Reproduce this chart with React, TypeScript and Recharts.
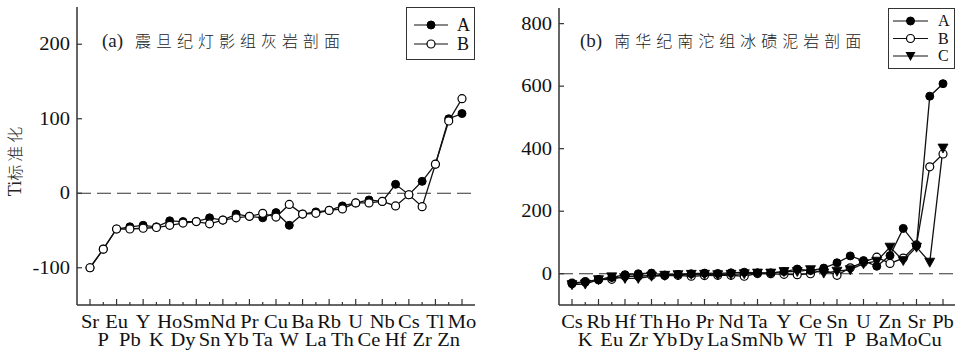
import React from 'react';
import { LineChart, Line, XAxis, YAxis, ReferenceLine, Legend } from 'recharts';

// ---------- data: panel (a) ----------
const leftElements = ['Sr','P','Eu','Pb','Y','K','Ho','Dy','Sm','Sn','Nd','Yb','Pr','Ta','Cu','W','Ba','La','Rb','Th','U','Ce','Nb','Hf','Cs','Zr','Tl','Zn','Mo'];
const leftA = [-100,-75,-48,-45,-43,-45,-37,-38,-38,-33,-36,-28,-31,-33,-26,-43,-28,-25,-23,-17,-13,-9,-11,12,-2,16,39,100,107];
const leftB = [-100,-75,-48,-48,-47,-46,-43,-40,-38,-41,-36,-33,-31,-27,-32,-15,-28,-27,-23,-21,-13,-13,-11,-17,-2,-18,39,97,127];
const leftTicks = [-100, 0, 100, 200];
const leftDomain = [-150, 250];
const leftTitle = '(a)';
const leftTitleCn = '震旦纪灯影组灰岩剖面';
const yLabelLatin = 'Ti';
const yLabelCn = '标准化';

// ---------- data: panel (b) ----------
const rightElements = ['Cs','K','Rb','Eu','Hf','Zr','Th','Yb','Ho','Dy','Pr','La','Nd','Sm','Ta','Nb','Y','W','Ce','Tl','Sn','P','U','Ba','Zn','Mo','Sr','Cu','Pb'];
const rightA = [-32,-27,-19,-12,-3,0,2,-4,-2,0,2,1,3,5,3,3,7,15,10,18,35,57,42,24,58,145,90,568,608];
const rightB = [-30,-25,-19,-18,-8,-8,-5,-6,-5,-8,-6,-5,-5,-8,1,0,-2,-3,0,13,-5,19,37,53,33,50,92,342,383];
const rightC = [-35,-33,-19,-10,-15,-15,-8,-5,-3,-2,-2,-3,-2,0,2,2,7,7,13,2,8,13,32,40,85,42,85,37,402];
const rightTicks = [0, 200, 400, 600, 800];
const rightDomain = [-100, 850];
const rightTitle = '(b)';
const rightTitleCn = '南华纪南沱组冰碛泥岩剖面';

const seriesNames = ['A', 'B', 'C'];

const leftData = leftElements.map((el, i) => ({ el, A: leftA[i], B: leftB[i] }));
const rightData = rightElements.map((el, i) => ({ el, A: rightA[i], B: rightB[i], C: rightC[i] }));

const SERIF = '"Liberation Serif", "Times New Roman", serif';
const CJK = '"Noto Sans CJK SC", sans-serif';
const AX = '#333';
const INK = '#111';
const FS = 19;
const SX = 1.08;

const XTick = (props: any) => {
  const { x, y, payload } = props;
  const i = payload.index;
  const top = i % 2 === 0;
  return (
    <g>
      <line x1={x} x2={x} y1={y} y2={y - (top ? 6 : 3)} stroke={AX} strokeWidth={1.2} />
      <text transform={`translate(${x},${y + (top ? 23 : 41)}) scale(${SX},1)`} x={0} y={0} textAnchor="middle"
        fontFamily={SERIF} fontSize={FS} fill={INK}>
        {payload.value}
      </text>
    </g>
  );
};

const YTick = (props: any) => {
  const { x, y, payload } = props;
  return (
    <g>
      <line x1={x} x2={x + 5} y1={y} y2={y} stroke={AX} strokeWidth={1.2} />
      <text transform={`translate(${x - 7},${y + 6}) scale(${SX},1)`} x={0} y={0} textAnchor="end"
        fontFamily={SERIF} fontSize={FS} fill={INK}>
        {payload.value}
      </text>
    </g>
  );
};

const Tri = (props: any) => {
  const { cx, cy, index } = props;
  if (cx == null || cy == null) return <g key={index} />;
  return <path key={index} d={`M${cx - 5},${cy - 4}L${cx + 5},${cy - 4}L${cx},${cy + 5}Z`} fill="#000" stroke="#000" strokeWidth={0.8} />;
};

const Marker = ({ kind, cx, cy }: { kind: string; cx: number; cy: number }) => {
  if (kind === 'A') return <circle cx={cx} cy={cy} r={4} fill="#000" stroke="#000" />;
  if (kind === 'B') return <circle cx={cx} cy={cy} r={4} fill="#fff" stroke="#000" strokeWidth={1.2} />;
  return <path d={`M${cx - 5},${cy - 4}L${cx + 5},${cy - 4}L${cx},${cy + 5}Z`} fill="#000" />;
};

const makeLegend = (names: string[], pitch: number, first: number, lineX1: number, lineX2: number, textX: number, fs: number) => () => (
  <div style={{ position: 'relative', width: '100%', height: '100%', boxSizing: 'border-box', border: `1.5px solid ${AX}`, background: '#fff' }}>
    <svg width="100%" height="100%" style={{ position: 'absolute', left: 0, top: 0 }}>
      {names.map((n, i) => {
        const cy = first + i * pitch;
        return (
          <g key={n}>
            <line x1={lineX1} x2={lineX2} y1={cy} y2={cy} stroke={INK} strokeWidth={1.2} />
            <Marker kind={n} cx={(lineX1 + lineX2) / 2} cy={cy} />
            <text x={textX} y={cy + fs * 0.32} fontFamily={SERIF} fontSize={fs} fill={INK}>{n}</text>
          </g>
        );
      })}
    </svg>
  </div>
);

const Title = ({ left, top, tag, cn }: { left: number; top: number; tag: string; cn: string }) => (
  <div style={{ position: 'absolute', left, top, whiteSpace: 'nowrap', lineHeight: '22px', color: '#222' }}>
    <span style={{ fontFamily: SERIF, fontSize: 19 }}>{tag}</span>
    <span style={{ fontFamily: CJK, fontSize: 16, letterSpacing: 5, marginLeft: 12, fontWeight: 300 }}>{cn}</span>
  </div>
);

export default function App() {
  return (
    <div style={{ position: 'absolute', left: 0, top: 0, width: 957, height: 350, background: '#fff', overflow: 'hidden' }}>
      <div style={{ position: 'absolute', left: 0, top: 0 }}>
        <LineChart width={480} height={350} data={leftData} margin={{ top: 7, right: 5, bottom: 0, left: 0 }}>
          <XAxis dataKey="el" interval={0} height={45} padding={{ left: 13, right: 13 }} tickSize={0} tickMargin={0}
            tickLine={false} axisLine={{ stroke: AX, strokeWidth: 1.5 }} tick={<XTick />} />
          <XAxis xAxisId="top" dataKey="el" orientation="top" height={0} tick={false} tickLine={false}
            axisLine={{ stroke: AX, strokeWidth: 1.5 }} />
          <YAxis type="number" domain={leftDomain} ticks={leftTicks} width={77} tickSize={0} tickMargin={0}
            tickLine={false} axisLine={{ stroke: AX, strokeWidth: 1.5 }} tick={<YTick />} allowDataOverflow />
          <YAxis yAxisId="r" orientation="right" width={0} tick={false} tickLine={false} axisLine={{ stroke: AX, strokeWidth: 1.5 }} />
          <ReferenceLine y={0} stroke={AX} strokeWidth={1.2} strokeDasharray="14 6" />
          <Line dataKey="A" stroke={INK} strokeWidth={1.3} isAnimationActive={false}
            dot={{ r: 4, fill: '#000', stroke: '#000', strokeWidth: 1 }} />
          <Line dataKey="B" stroke={INK} strokeWidth={1.3} isAnimationActive={false}
            dot={{ r: 4, fill: '#fff', stroke: '#000', strokeWidth: 1.2 }} />
          <Legend layout="vertical" align="center" verticalAlign="middle"
            wrapperStyle={{ left: 406, top: 7, width: 69, height: 53 }}
            content={makeLegend(seriesNames.slice(0, 2), 19, 17, 7, 41, 50, 18)} />
        </LineChart>
      </div>
      <div style={{ position: 'absolute', left: 480, top: 0 }}>
        <LineChart width={477} height={350} data={rightData} margin={{ top: 8, right: 2, bottom: 0, left: 0 }}>
          <XAxis dataKey="el" interval={0} height={45} padding={{ left: 13, right: 12 }} tickSize={0} tickMargin={0}
            tickLine={false} axisLine={{ stroke: AX, strokeWidth: 1.5 }} tick={<XTick />} />
          <XAxis xAxisId="top" dataKey="el" orientation="top" height={0} tick={false} tickLine={false}
            axisLine={{ stroke: AX, strokeWidth: 1.5 }} />
          <YAxis type="number" domain={rightDomain} ticks={rightTicks} width={79} tickSize={0} tickMargin={0}
            tickLine={false} axisLine={{ stroke: AX, strokeWidth: 1.5 }} tick={<YTick />} allowDataOverflow />
          <YAxis yAxisId="r" orientation="right" width={0} tick={false} tickLine={false} axisLine={{ stroke: AX, strokeWidth: 1.5 }} />
          <ReferenceLine y={0} stroke={AX} strokeWidth={1.2} strokeDasharray="14 6" />
          <Line dataKey="B" stroke={INK} strokeWidth={1.3} isAnimationActive={false}
            dot={{ r: 4, fill: '#fff', stroke: '#000', strokeWidth: 1.2 }} />
          <Line dataKey="C" stroke={INK} strokeWidth={1.3} isAnimationActive={false} dot={<Tri />} />
          <Line dataKey="A" stroke={INK} strokeWidth={1.3} isAnimationActive={false}
            dot={{ r: 4, fill: '#000', stroke: '#000', strokeWidth: 1 }} />
          <Legend layout="vertical" align="center" verticalAlign="middle"
            wrapperStyle={{ left: 408, top: 8, width: 67, height: 61 }}
            content={makeLegend(seriesNames, 17.5, 12, 4, 39, 49, 16)} />
        </LineChart>
      </div>
      <Title left={102} top={29} tag={leftTitle} cn={leftTitleCn} />
      <Title left={580} top={29} tag={rightTitle} cn={rightTitleCn} />
      <div style={{ position: 'absolute', left: 15, top: 160, transform: 'translate(-50%, -50%) rotate(-90deg)', whiteSpace: 'nowrap', color: '#222', lineHeight: '20px' }}>
        <span style={{ fontFamily: SERIF, fontSize: 18 }}>{yLabelLatin}</span>
        <span style={{ fontFamily: CJK, fontSize: 16, letterSpacing: 3, fontWeight: 300 }}>{yLabelCn}</span>
      </div>
    </div>
  );
}
